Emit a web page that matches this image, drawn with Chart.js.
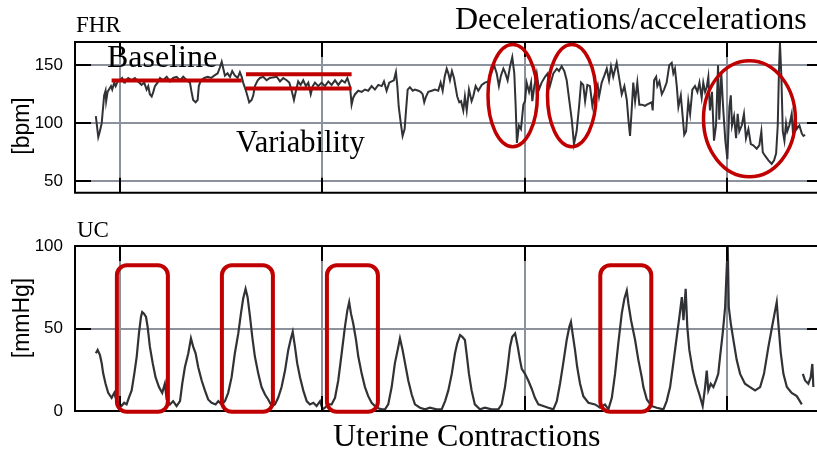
<!DOCTYPE html>
<html>
<head>
<meta charset="utf-8">
<script src="https://cdn.jsdelivr.net/npm/chart.js@4.4.1/dist/chart.umd.min.js"></script>
<style>
  html, body { margin: 0; padding: 0; background: #fff; overflow: hidden; }
  #wrap { position: relative; width: 817px; height: 453px; }
  #fhrBox { position: absolute; left: 0; top: 0; width: 817px; height: 215px; }
  #ucBox { position: absolute; left: 0; top: 215px; width: 817px; height: 238px; }
</style>
</head>
<body>
<div id="wrap">
  <div id="fhrBox"><canvas id="fhrChart"></canvas></div>
  <div id="ucBox"><canvas id="ucChart"></canvas></div>
</div>
<script>
// CTG trace: fetal heart rate on top, uterine contractions below (time in minutes)

const TIME_MIN = 7.78;
const TIME_MAX = 44.45;
const gridTimes = [10, 20, 30, 40];

const fhrTicks = [50, 100, 150];
const ucTicks = [0, 50, 100];

const fhrTime = [
  8.81, 8.93, 9.01, 9.10, 9.14, 9.22, 9.29, 9.32, 9.39, 9.46, 9.56, 9.62, 9.72, 9.79, 9.89,
  10.00, 10.11, 10.21, 10.25, 10.41, 10.58, 10.74, 10.90, 11.07, 11.20, 11.32, 11.40, 11.48, 11.57, 11.65,
  11.73, 11.86, 11.98, 12.14, 12.31, 12.47, 12.63, 12.80, 12.97, 13.13, 13.30, 13.46, 13.54, 13.62, 13.74,
  13.84, 13.90, 14.00, 14.17, 14.34, 14.50, 14.66, 14.83, 14.94, 15.03, 15.11, 15.19, 15.32, 15.44, 15.55,
  15.68, 15.82, 15.93, 16.02, 16.09, 16.21, 16.31, 16.39, 16.51, 16.59, 16.67, 16.81, 16.92, 17.08, 17.25,
  17.41, 17.75, 17.91, 18.07, 18.24, 18.37, 18.49, 18.60, 18.70, 18.81, 18.93, 19.06, 19.19, 19.31, 19.43,
  19.53, 19.64, 19.80, 19.97, 20.13, 20.30, 20.46, 20.63, 20.79, 20.96, 21.12, 21.24, 21.37, 21.45, 21.53,
  21.62, 21.78, 21.95, 22.11, 22.27, 22.44, 22.60, 22.77, 22.94, 23.05, 23.18, 23.31, 23.43, 23.54, 23.64,
  23.71, 23.78, 23.88, 23.97, 24.07, 24.14, 24.22, 24.33, 24.47, 24.58, 24.75, 24.86, 24.96, 25.04, 25.13,
  25.24, 25.41, 25.57, 25.73, 25.85, 25.95, 26.05, 26.15, 26.23, 26.31, 26.41, 26.51, 26.61, 26.67, 26.77,
  26.86, 26.97, 27.05, 27.14, 27.25, 27.38, 27.46, 27.58, 27.71, 27.88, 28.04, 28.21, 28.37, 28.49, 28.62,
  28.73, 28.83, 28.95, 29.03, 29.16, 29.28, 29.39, 29.49, 29.56, 29.62, 29.72, 29.82, 29.94, 30.02, 30.10,
  30.22, 30.32, 30.38, 30.48, 30.60, 30.71, 30.84, 31.01, 31.14, 31.25, 31.42, 31.59, 31.70, 31.83, 31.96,
  32.08, 32.19, 32.33, 32.44, 32.57, 32.69, 32.79, 32.90, 32.99, 33.10, 33.23, 33.35, 33.48, 33.61, 33.68,
  33.81, 33.94, 34.06, 34.17, 34.27, 34.38, 34.55, 34.67, 34.80, 34.93, 35.05, 35.13, 35.21, 35.29, 35.37,
  35.46, 35.57, 35.67, 35.79, 35.95, 36.04, 36.28, 36.33, 36.40, 36.50, 36.56, 36.66, 36.78, 36.89, 37.02,
  37.15, 37.27, 37.35, 37.43, 37.52, 37.60, 37.72, 37.81, 37.89, 37.98, 38.09, 38.18, 38.29, 38.42, 38.54,
  38.64, 38.75, 38.83, 38.92, 39.00, 39.08, 39.16, 39.26, 39.36, 39.46, 39.56, 39.62, 39.72, 39.82, 39.92,
  40.02, 40.12, 40.19, 40.25, 40.35, 40.45, 40.53, 40.61, 40.73, 40.84, 40.94, 41.06, 41.18, 41.30, 41.47,
  41.60, 41.70, 41.77, 41.88, 42.05, 42.21, 42.33, 42.43, 42.51, 42.57, 42.62, 42.69, 42.76, 42.84, 42.92,
  42.98, 43.08, 43.20, 43.28, 43.37, 43.45, 43.58, 43.70, 43.78, 43.86
];
const fhrBpm = [
  106, 88, 93, 100, 108, 124, 128, 119, 127, 129, 132, 129, 135, 132, 136,
  137, 139, 135, 136, 139, 137, 139, 136, 133, 135, 129, 132, 125, 123, 127,
  132, 135, 139, 137, 140, 136, 139, 140, 137, 140, 137, 135, 127, 120, 118,
  120, 132, 137, 139, 140, 139, 141, 143, 148, 153, 147, 141, 143, 140, 145,
  141, 139, 144, 140, 135, 129, 123, 118, 120, 124, 132, 137, 139, 140, 137,
  139, 140, 136, 139, 137, 135, 128, 120, 128, 136, 133, 137, 132, 135, 125,
  132, 135, 132, 135, 132, 136, 133, 137, 133, 137, 135, 139, 132, 116, 122,
  125, 128, 127, 129, 128, 132, 129, 133, 132, 136, 128, 135, 136, 137, 144,
  132, 114, 100, 89, 95, 111, 129, 131, 128, 129, 128, 127, 125, 118, 123,
  127, 128, 129, 128, 135, 128, 140, 147, 143, 137, 145, 139, 129, 123, 118,
  119, 111, 123, 111, 129, 119, 123, 132, 128, 133, 135, 136, 144, 150, 143,
  132, 141, 147, 144, 137, 149, 157, 143, 114, 83, 98, 95, 116, 119, 135,
  127, 135, 119, 132, 143, 129, 135, 140, 143, 132, 143, 147, 145, 149, 145,
  137, 122, 103, 82, 93, 114, 135, 133, 119, 133, 132, 115, 127, 133, 123,
  135, 141, 147, 137, 149, 140, 152, 139, 125, 132, 120, 103, 89, 111, 135,
  119, 135, 116, 116, 115, 116, 118, 111, 137, 140, 132, 136, 125, 129, 135,
  150, 152, 143, 147, 132, 114, 124, 106, 90, 93, 119, 108, 129, 132, 127,
  135, 122, 135, 127, 131, 140, 111, 127, 85, 98, 150, 103, 143, 111, 85,
  69, 114, 124, 98, 106, 87, 108, 93, 98, 108, 87, 95, 82, 81, 78,
  81, 93, 75, 72, 68, 65, 68, 74, 98, 145, 169, 140, 93, 85, 100,
  93, 98, 108, 87, 106, 95, 98, 91, 89, 90
];

const ucTime = [
  8.81, 8.90, 9.01, 9.10, 9.17, 9.29, 9.42, 9.59, 9.72, 9.84, 9.95, 10.08, 10.21, 10.33, 10.44,
  10.58, 10.71, 10.83, 10.94, 11.04, 11.10, 11.19, 11.29, 11.37, 11.48, 11.62, 11.76, 11.93, 12.09, 12.22,
  12.31, 12.47, 12.63, 12.80, 12.97, 13.08, 13.21, 13.38, 13.51, 13.62, 13.74, 13.87, 14.04, 14.20, 14.36,
  14.53, 14.73, 14.86, 15.03, 15.19, 15.35, 15.52, 15.68, 15.85, 15.98, 16.09, 16.21, 16.31, 16.43, 16.54,
  16.67, 16.84, 17.00, 17.17, 17.33, 17.50, 17.66, 17.82, 17.99, 18.16, 18.32, 18.45, 18.54, 18.65, 18.76,
  18.90, 19.06, 19.23, 19.39, 19.56, 19.72, 19.89, 20.02, 20.13, 20.30, 20.46, 20.63, 20.79, 20.96, 21.12,
  21.24, 21.33, 21.42, 21.53, 21.67, 21.78, 21.95, 22.11, 22.27, 22.44, 22.69, 22.94, 23.10, 23.26, 23.43,
  23.59, 23.76, 23.84, 23.97, 24.09, 24.25, 24.42, 24.58, 24.83, 25.08, 25.32, 25.65, 25.90, 26.07, 26.23,
  26.40, 26.56, 26.67, 26.81, 26.92, 27.05, 27.14, 27.25, 27.38, 27.54, 27.79, 28.04, 28.37, 28.70, 28.87,
  29.03, 29.16, 29.28, 29.39, 29.53, 29.66, 29.77, 29.86, 30.02, 30.18, 30.35, 30.51, 30.68, 30.92, 31.17,
  31.42, 31.59, 31.75, 31.91, 32.08, 32.21, 32.29, 32.37, 32.49, 32.60, 32.74, 32.90, 33.15, 33.48, 33.73,
  33.97, 34.14, 34.31, 34.47, 34.63, 34.80, 34.93, 35.05, 35.13, 35.26, 35.46, 35.62, 35.79, 35.87, 36.04,
  36.28, 36.53, 36.86, 37.02, 37.19, 37.35, 37.52, 37.65, 37.77, 37.85, 37.96, 38.04, 38.14, 38.31, 38.47,
  38.64, 38.80, 38.92, 39.00, 39.08, 39.20, 39.33, 39.46, 39.57, 39.66, 39.79, 39.91, 39.99, 40.04, 40.09,
  40.19, 40.32, 40.48, 40.65, 40.89, 41.14, 41.39, 41.64, 41.83, 42.05, 42.26, 42.46, 42.54, 42.66, 42.79,
  42.96, 43.20, 43.45, 43.70, 43.72, 43.75, 43.86, 44.02, 44.14, 44.22, 44.27
];
const ucMmHg = [
  35, 37, 34, 29, 23, 16.5, 11, 8, 11, 6, 5, 3, 5, 4, 8,
  12.5, 22.5, 33, 47, 57, 60, 59, 57, 51, 39, 29, 20.5, 14.5, 11, 16.5,
  7, 4, 6, 3, 6, 16.5, 26.5, 35, 44, 39, 35, 26.5, 18.5, 12.5, 7,
  5, 4, 6, 4, 6, 11, 20.5, 35, 47, 59, 68, 74, 69, 57, 45,
  33, 22.5, 14.5, 10, 7, 3, 4, 8, 14.5, 24.5, 37, 44, 48, 39, 29,
  20.5, 12.5, 6, 4, 5, 3, 6, 1, 2, 4, 4, 8, 18.5, 35, 51,
  61, 66, 59, 53, 43, 33, 22.5, 14.5, 9, 5, 2, 1, 1, 4, 14.5,
  29, 39, 44, 37, 29, 18.5, 10, 4, 2, 1, 2, 1, 1, 6, 12.5,
  22.5, 35, 41, 46, 45, 43, 34, 22.5, 12.5, 4, 1, 2, 1, 1, 4,
  14.5, 26.5, 39, 45, 47, 39, 31, 25.5, 22.5, 18.5, 13.5, 8, 4, 3, 2,
  1, 6, 16.5, 29, 43, 51, 54, 47, 37, 26.5, 16.5, 9, 5, 4, 2,
  4, 1, 8, 22.5, 41, 59, 68, 73, 65, 55, 43, 31, 20.5, 14.5, 7,
  3, 2, 1, 6, 14.5, 29, 45, 57, 69, 55, 74, 51, 37, 24.5, 16.5,
  10, 3, 14.5, 24.5, 12.5, 16.5, 14.5, 18.5, 22.5, 33, 47, 63, 87, 99.5, 63,
  53, 43, 31, 22.5, 16.5, 14.5, 12.5, 14.5, 22.5, 39, 53, 66, 53, 35, 22.5,
  14.5, 11, 9, 4, null, 22.5, 18.5, 16.5, 20.5, 28.5, 14.5
];

// marked features: [start, end, bpm] segments, [t, bpm, half-width min, half-height bpm] ellipses
const baselineSegs = [[9.59, 16.02, 136.8]];
const variabilitySegs = [[16.23, 21.45, 142.1], [16.23, 21.45, 130]];
const decelEllipses = [[29.41, 123.8, 1.22, 44], [32.33, 123.8, 1.2, 44], [41.11, 103.8, 2.27, 50]];
// contraction boxes: centre time, half-width (min), mmHg range
const contractionBoxes = [11.11, 16.30, 21.49, 35.00];
const BOX_HALF = 1.26, BOX_LOW = -0.5, BOX_HIGH = 88.3;

const RED = '#c00000';
const GRID = '#8c929c';
const TRACE = '#303236';
const SERIF = '"Liberation Serif", "Times New Roman", serif';
const SANS = '"Liberation Sans", Arial, sans-serif';

const pts = (xs, ys) => xs.map((x, i) => ({ x: x, y: ys[i] }));

function segDataset(seg) {
  return {
    data: [{ x: seg[0], y: seg[2] }, { x: seg[1], y: seg[2] }],
    borderColor: RED, borderWidth: 4, pointRadius: 0, order: 0
  };
}

function timeAxis(h) {
  return {
    type: 'linear', min: TIME_MIN, max: TIME_MAX,
    afterBuildTicks: s => { s.ticks = gridTimes.map(v => ({ value: v })); },
    afterFit: s => { s.height = h; },
    ticks: { display: false },
    grid: { color: GRID, lineWidth: 2, drawTicks: false },
    border: { display: false }
  };
}

function valueAxis(min, max, ticks) {
  return {
    min: min, max: max,
    afterBuildTicks: s => { s.ticks = ticks.map(v => ({ value: v })); },
    afterFit: s => { s.width = 75; },
    ticks: { color: '#000', padding: 12, font: { family: SANS, size: 17 } },
    grid: { color: GRID, lineWidth: 2, drawTicks: false },
    border: { display: false }
  };
}

function text(ctx, str, x, y, size, family, rotate) {
  ctx.save();
  ctx.fillStyle = '#000';
  ctx.font = size + 'px ' + family;
  ctx.translate(x, y);
  if (rotate) {
    ctx.rotate(-Math.PI / 2);
    ctx.textAlign = 'center';
  } else {
    ctx.textAlign = 'left';
  }
  ctx.textBaseline = 'alphabetic';
  ctx.fillText(str, 0, 0);
  ctx.restore();
}

// black frame (no right side) with short inward ticks
const framePlugin = {
  id: 'frame',
  afterDraw(chart) {
    const { ctx, chartArea: a, scales } = chart;
    ctx.save();
    ctx.strokeStyle = '#000';
    ctx.lineWidth = 2;
    ctx.beginPath();
    ctx.moveTo(a.right + 2, a.top);
    ctx.lineTo(a.left, a.top);
    ctx.lineTo(a.left, a.bottom);
    ctx.lineTo(a.right + 2, a.bottom);
    scales.x.ticks.forEach(t => {
      const x = Math.round(scales.x.getPixelForValue(t.value));
      ctx.moveTo(x, a.top); ctx.lineTo(x, a.top + 15);
      ctx.moveTo(x, a.bottom); ctx.lineTo(x, a.bottom - 15);
    });
    scales.y.ticks.forEach(t => {
      const y = Math.round(scales.y.getPixelForValue(t.value));
      ctx.moveTo(a.left, y); ctx.lineTo(a.left + 16, y);
      ctx.moveTo(a.right, y); ctx.lineTo(a.right - 10, y);
    });
    ctx.stroke();
    ctx.restore();
  }
};

const fhrNotes = {
  id: 'fhrNotes',
  afterDraw(chart) {
    const { ctx } = chart;
    const sx = chart.scales.x, sy = chart.scales.y;
    ctx.save();
    ctx.strokeStyle = RED;
    ctx.lineWidth = 3.5;
    decelEllipses.forEach(([t, v, dt, dv]) => {
      const cx = sx.getPixelForValue(t), cy = sy.getPixelForValue(v);
      const rx = sx.getPixelForValue(t + dt) - cx;
      const ry = cy - sy.getPixelForValue(v + dv);
      ctx.beginPath();
      ctx.ellipse(cx, cy, rx, ry, 0, 0, Math.PI * 2);
      ctx.stroke();
    });
    ctx.restore();

    text(ctx, 'FHR', 76, 32, 23, SERIF);
    text(ctx, 'Baseline', 107, 67, 32, SERIF);
    text(ctx, 'Variability', 236, 152, 30.5, SERIF);
    text(ctx, 'Decelerations/accelerations', 455, 29, 32, SERIF);
    text(ctx, '[bpm]', 29, 126, 23, SANS, true);
  }
};

const ucNotes = {
  id: 'ucNotes',
  afterDraw(chart) {
    const { ctx } = chart;
    const sx = chart.scales.x, sy = chart.scales.y;
    ctx.save();
    ctx.strokeStyle = RED;
    ctx.lineWidth = 4;
    contractionBoxes.forEach(t => {
      const x0 = sx.getPixelForValue(t - BOX_HALF), x1 = sx.getPixelForValue(t + BOX_HALF);
      const y0 = sy.getPixelForValue(BOX_HIGH), y1 = sy.getPixelForValue(BOX_LOW);
      ctx.beginPath();
      ctx.roundRect(x0, y0, x1 - x0, y1 - y0, 10);
      ctx.stroke();
    });
    ctx.restore();

    text(ctx, 'UC', 77, 22, 23, SERIF);
    text(ctx, 'Uterine Contractions', 333, 231, 32, SERIF);
    text(ctx, '[mmHg]', 29, 103, 23, SANS, true);
  }
};

const common = {
  animation: false,
  responsive: true,
  maintainAspectRatio: false,
  devicePixelRatio: 1,
  plugins: { legend: { display: false }, tooltip: { enabled: false } }
};

new Chart(document.getElementById('fhrChart'), {
  type: 'line',
  data: {
    datasets: [
      ...baselineSegs.map(segDataset),
      ...variabilitySegs.map(segDataset),
      { label: 'FHR', data: pts(fhrTime, fhrBpm), borderColor: TRACE, borderWidth: 2,
        pointRadius: 0, tension: 0, order: 1 }
    ]
  },
  options: {
    ...common,
    layout: { padding: { top: 42, left: 0, right: 0, bottom: 0 } },
    scales: { x: timeAxis(8), y: valueAxis(40, 170, fhrTicks) }
  },
  plugins: [framePlugin, fhrNotes]
});

new Chart(document.getElementById('ucChart'), {
  type: 'line',
  data: {
    datasets: [
      { label: 'UC', data: pts(ucTime, ucMmHg), borderColor: TRACE, borderWidth: 2.2,
        pointRadius: 0, tension: 0, spanGaps: false }
    ]
  },
  options: {
    ...common,
    layout: { padding: { top: 31, left: 0, right: 0, bottom: 0 } },
    scales: { x: timeAxis(42), y: valueAxis(0, 100, ucTicks) }
  },
  plugins: [framePlugin, ucNotes]
});
</script>
</body>
</html>
